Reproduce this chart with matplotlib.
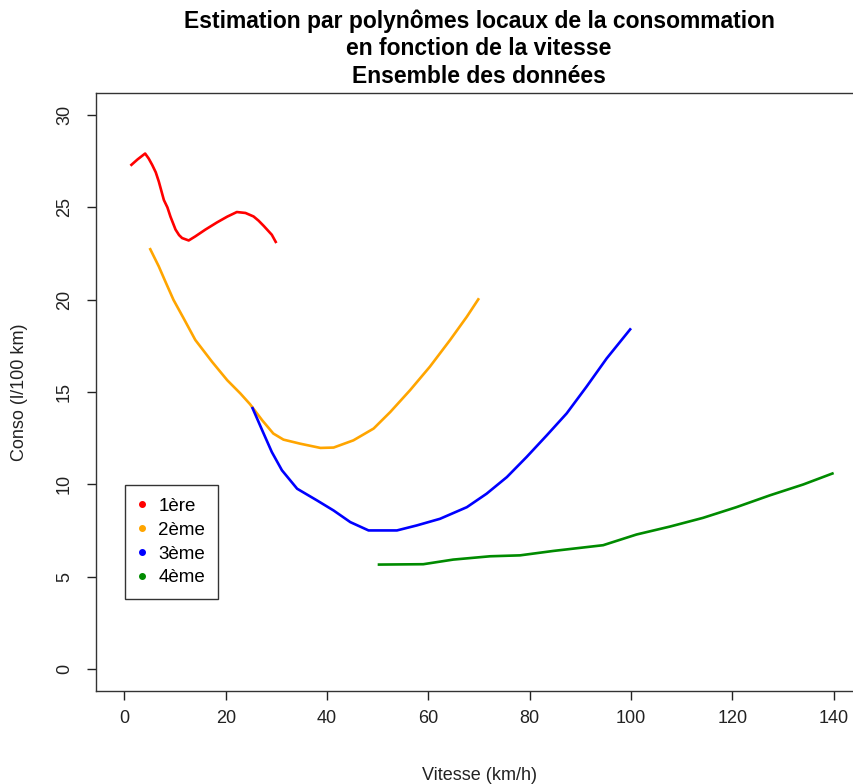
import matplotlib
matplotlib.use("Agg")
import matplotlib.pyplot as plt

plt.rcParams['font.family'] = ['Liberation Sans', 'DejaVu Sans']

# courbes lissées par rapport engagé (vitesse en km/h, conso en l/100 km)
v1 = [1.2, 2.6, 4.1, 4.8, 5.5, 6.2, 6.8, 7.8, 8.5, 9.1, 10.1, 10.8, 11.4, 12.7, 14.0, 16.0, 18.3, 20.3, 22.2, 23.9, 25.5, 26.5, 27.5, 29.1, 30.0]
c1 = [27.26, 27.6, 27.92, 27.65, 27.3, 26.9, 26.4, 25.4, 25.0, 24.5, 23.8, 23.5, 23.34, 23.21, 23.43, 23.8, 24.19, 24.5, 24.75, 24.7, 24.51, 24.28, 24.0, 23.52, 23.07]

v2 = [5.0, 6.8, 8.1, 9.7, 11.7, 14.0, 17.3, 20.3, 22.9, 24.8, 27.2, 29.4, 31.4, 34.7, 38.7, 41.3, 45.2, 49.2, 52.5, 56.4, 60.3, 64.3, 67.6, 70.0]
c2 = [22.8, 21.8, 20.98, 19.99, 18.99, 17.82, 16.64, 15.64, 14.92, 14.34, 13.47, 12.75, 12.42, 12.2, 11.97, 11.99, 12.38, 13.02, 13.92, 15.1, 16.37, 17.82, 19.08, 20.08]

v3 = [25.2, 27.2, 29.1, 31.1, 34.1, 38.0, 41.3, 44.6, 48.2, 53.8, 57.7, 62.3, 67.6, 71.5, 75.5, 79.4, 83.4, 87.3, 91.2, 95.2, 100.0]
c3 = [14.19, 12.93, 11.75, 10.76, 9.76, 9.13, 8.58, 7.95, 7.5, 7.5, 7.77, 8.13, 8.76, 9.49, 10.39, 11.48, 12.66, 13.84, 15.28, 16.82, 18.45]

v4 = [50.0, 59.0, 64.9, 72.2, 78.1, 84.7, 94.5, 101.1, 107.7, 114.2, 120.8, 127.4, 134.0, 140.0]
c4 = [5.65, 5.67, 5.92, 6.1, 6.15, 6.39, 6.7, 7.28, 7.71, 8.18, 8.76, 9.4, 9.99, 10.61]

rapports = ["1ère", "2ème", "3ème", "4ème"]
couleurs = ["red", "orange", "blue", "#008B00"]

fig = plt.figure(figsize=(8.54, 7.84), dpi=100)
ax = fig.add_axes([0.1124, 0.1186, 0.8970, 0.7628])

for v, c, col in zip([v1, v2, v3, v4], [c1, c2, c3, c4], couleurs):
    ax.plot(v, c, color=col, lw=1.9, solid_capstyle='butt', solid_joinstyle='round')

ax.set_xlim(-5.6, 145.6)
ax.set_ylim(-1.2, 31.2)
ax.set_xticks(range(0, 141, 20))
ax.set_yticks(range(0, 31, 5))
ax.tick_params(axis='both', length=6.5, width=1, labelsize=13, colors='#222222')
ax.tick_params(axis='x', pad=7)
ax.tick_params(axis='y', pad=10)
for lab in ax.get_yticklabels():
    lab.set_rotation(90)
    lab.set_va('center')
for s in ax.spines.values():
    s.set_linewidth(1)
    s.set_color('#333333')

ax.set_xlabel("Vitesse (km/h)", fontsize=13, labelpad=29, color='#222222')
ax.set_ylabel("Conso (l/100 km)", fontsize=13, labelpad=20, color='#222222')

fig.text(0.561, 0.988, "Estimation par polynômes locaux de la consommation\n"
         "en fonction de la vitesse\nEnsemble des données",
         ha='center', va='top', fontsize=16.5, fontweight='bold', linespacing=1.25)

# légende : petits points colorés dans un cadre noir
handles = [plt.Line2D([], [], ls='none', marker='o', ms=4, color=col) for col in couleurs]
leg = ax.legend(handles, rapports, loc='upper left', bbox_to_anchor=(0.0379, 0.3445),
                borderaxespad=0, fontsize=13.5, frameon=True, fancybox=False,
                handlelength=0.5, handletextpad=0.6, labelspacing=0.36,
                borderpad=0.68)
leg.get_frame().set_edgecolor('black')
leg.get_frame().set_linewidth(1)

fig.savefig("out.png", dpi=100)
